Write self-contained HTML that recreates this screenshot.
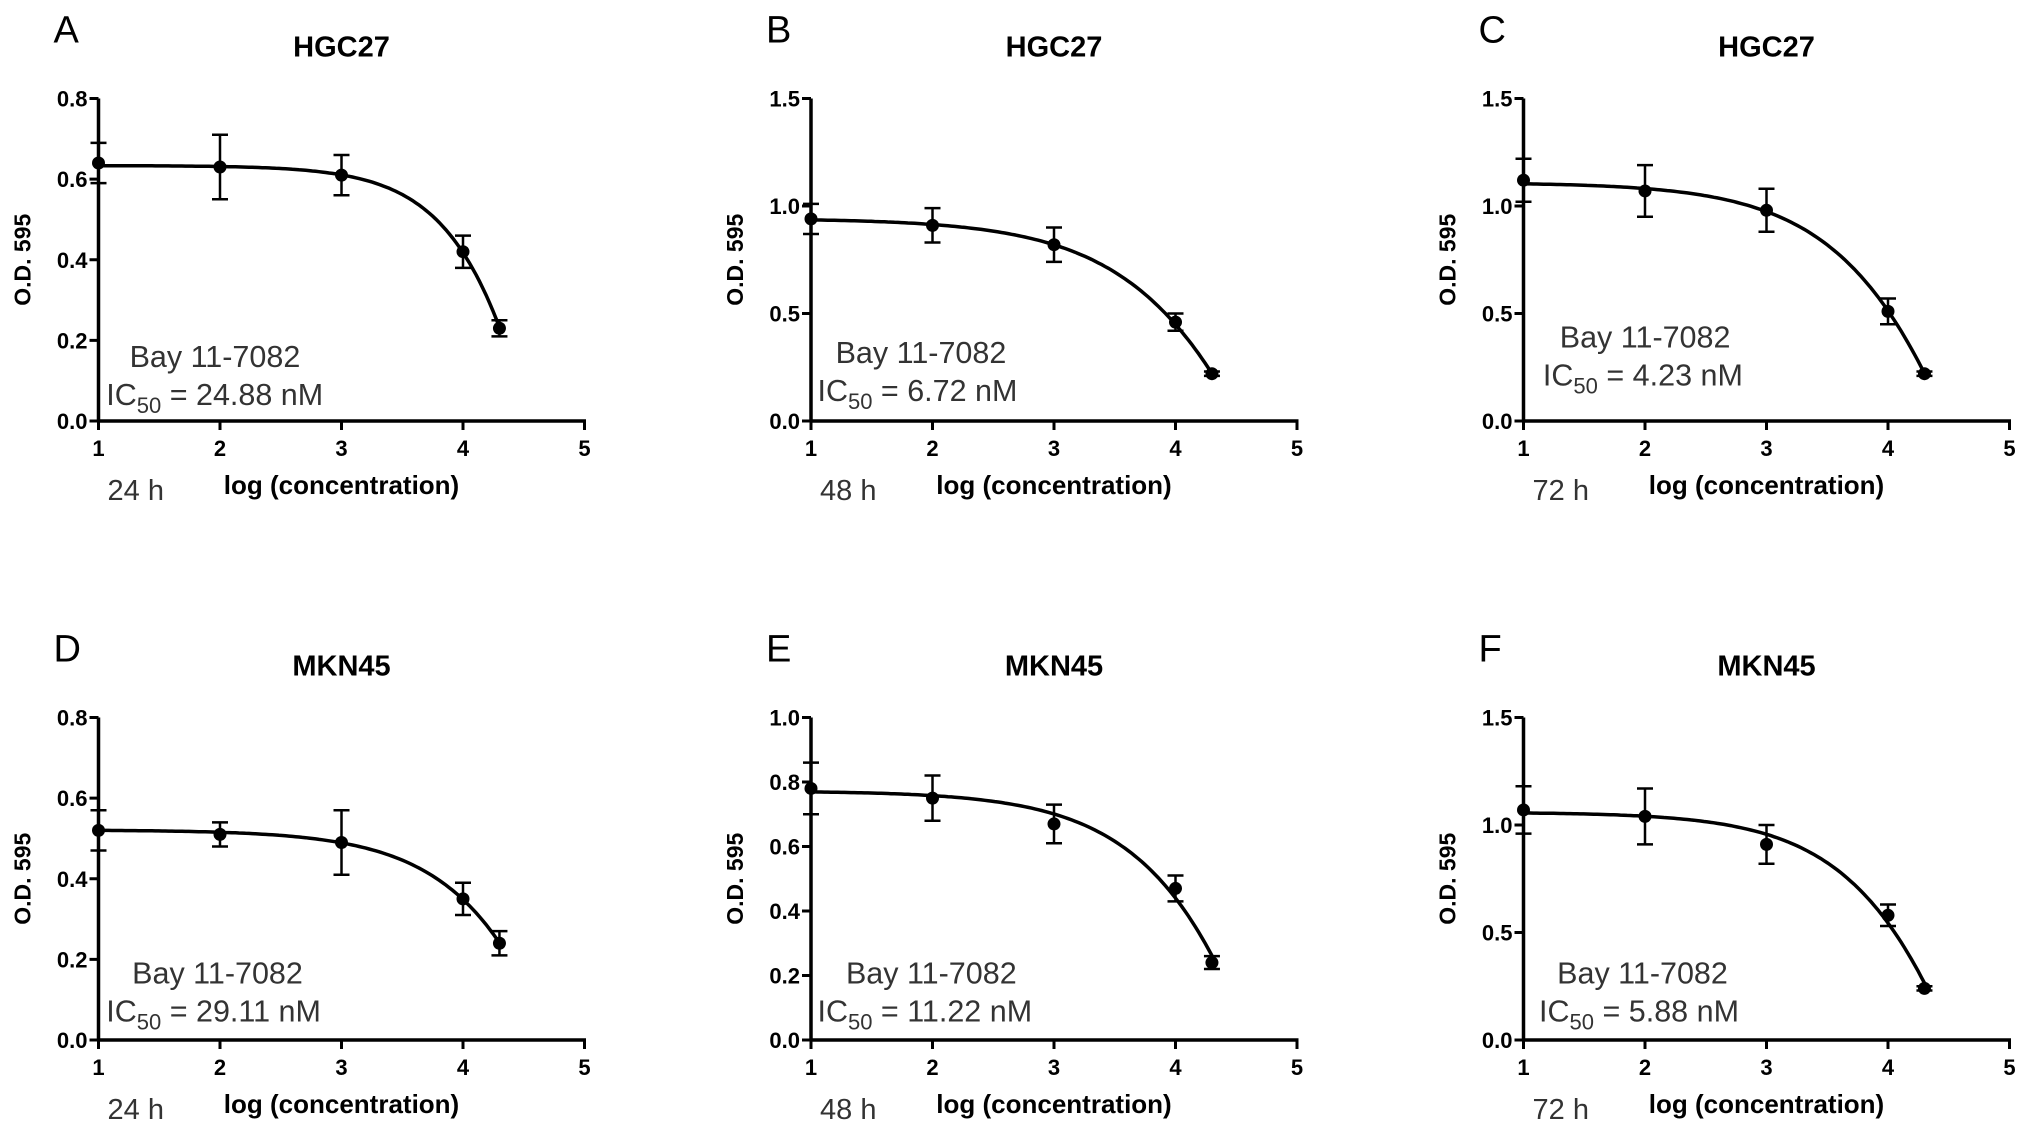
<!DOCTYPE html>
<html><head><meta charset="utf-8"><style>
html,body{margin:0;padding:0;background:#fff;}
svg{display:block;font-family:"Liberation Sans",Arial,sans-serif;}
</style></head><body>
<svg id="fig" width="2031" height="1137" viewBox="0 0 2031 1137" xmlns="http://www.w3.org/2000/svg"></svg>
<script>
const panelLetters = ["A","B","C","D","E","F"];
const panelTitles = ["HGC27","HGC27","HGC27","MKN45","MKN45","MKN45"];
const timeLabels = ["24 h","48 h","72 h","24 h","48 h","72 h"];
const ic50Labels = ["24.88 nM","6.72 nM","4.23 nM","29.11 nM","11.22 nM","5.88 nM"];
const yMaxes = [0.8,1.5,1.5,0.8,1.0,1.5];
const yTickLabels = [
  ["0.0","0.2","0.4","0.6","0.8"],
  ["0.0","0.5","1.0","1.5"],
  ["0.0","0.5","1.0","1.5"],
  ["0.0","0.2","0.4","0.6","0.8"],
  ["0.0","0.2","0.4","0.6","0.8","1.0"],
  ["0.0","0.5","1.0","1.5"]
];
const xTickLabels = ["1","2","3","4","5"];
const logConc = [1,2,3,4,4.3];
const meanA = [0.64,0.63,0.61,0.42,0.23];
const errA  = [0.05,0.08,0.05,0.04,0.02];
const meanB = [0.94,0.91,0.82,0.46,0.22];
const errB  = [0.07,0.08,0.08,0.04,0.01];
const meanC = [1.12,1.07,0.98,0.51,0.22];
const errC  = [0.10,0.12,0.10,0.06,0.01];
const meanD = [0.52,0.51,0.49,0.35,0.24];
const errD  = [0.05,0.03,0.08,0.04,0.03];
const meanE = [0.78,0.75,0.67,0.47,0.24];
const errE  = [0.08,0.07,0.06,0.04,0.02];
const meanF = [1.07,1.04,0.91,0.58,0.24];
const errF  = [0.11,0.13,0.09,0.05,0.01];
const means = [meanA,meanB,meanC,meanD,meanE,meanF];
const errs = [errA,errB,errC,errD,errE,errF];

const NS="http://www.w3.org/2000/svg";
const svg=document.getElementById('fig');
function mk(tag,attrs,parent,text){const e=document.createElementNS(NS,tag);for(const k in attrs)e.setAttribute(k,attrs[k]);if(text!==undefined)e.textContent=text;(parent||svg).appendChild(e);return e;}

function fit(xs,ys){
  let best=null,bErr=1e9;const mx=Math.max(...ys);
  for(let t=0;t<=12;t++){const top=mx*(0.99+t*0.012);
   for(let b=0;b<=30;b++){const bot=-3+b*0.1;
    for(let ci=0;ci<=60;ci++){const c=3.5+ci*0.05;
     for(let hi=0;hi<=40;hi++){const h=0.3+hi*0.05;
      let e=0;for(let i=0;i<xs.length;i++){const v=bot+(top-bot)/(1+Math.pow(10,(xs[i]-c)*h));e+=(v-ys[i])*(v-ys[i]);}
      if(e<bErr){bErr=e;best=[top,bot,c,h];}}}}}
  return best;
}

const annot = [[24,6,0],[19,5,-3],[28,15,-15],[26,6,-2],[27,5,-2],[26,12,-2]];
for(let p=0;p<6;p++){
  const col=p%3,row=Math.floor(p/3);
  const x1=98.5+col*712.5, x5=x1+486;
  const y0=421+row*619, yTop=98.5+row*619;
  const sx=v=>x1+(v-1)*(x5-x1)/4;
  const sy=v=>y0-v*(y0-yTop)/yMaxes[p];
  const g=mk('g',{});
  
  
  let t;
  t=mk('text',{x:x1-45,y:yTop-56,'font-size':38},g,panelLetters[p]);
  
  t=mk('text',{x:x1+243,y:yTop-42,'font-size':29,'font-weight':'bold','text-anchor':'middle'},g,panelTitles[p]);
  
  const cy=(y0+yTop)/2;
  t=mk('text',{x:0,y:0,'font-size':23,'font-weight':'bold','text-anchor':'middle',transform:`translate(${x1-68},${cy}) rotate(-90)`},g,'O.D. 595');
  
  let a=mk('line',{x1:x1,y1:yTop,x2:x1,y2:y0+1.5,stroke:'#000','stroke-width':3.5},g);
  
  a=mk('line',{x1:x1-1.5,y1:y0,x2:x5+1.5,y2:y0,stroke:'#000','stroke-width':3.5},g);
  
  const ny=yTickLabels[p].length;
  yTickLabels[p].forEach((lab,i)=>{
    const v=yMaxes[p]*i/(ny-1), yy=sy(v);
    mk('line',{x1:x1-9,y1:yy,x2:x1,y2:yy,stroke:'#000','stroke-width':3},g);
    const tt=mk('text',{x:x1-11,y:yy+8,'font-size':22,'font-weight':'bold','text-anchor':'end'},g,lab);
    
  });
  xTickLabels.forEach((lab,i)=>{
    const xx=sx(i+1);
    mk('line',{x1:xx,y1:y0,x2:xx,y2:y0+9,stroke:'#000','stroke-width':3},g);
    const tt=mk('text',{x:xx,y:y0+35,'font-size':22,'font-weight':'bold','text-anchor':'middle'},g,lab);
    
  });
  t=mk('text',{x:x1+243,y:y0+73,'font-size':26,'font-weight':'bold','text-anchor':'middle'},g,'log (concentration)');
  
  t=mk('text',{x:x1+9,y:y0+79,'font-size':29,fill:'#333'},g,timeLabels[p]);
  
  const an=annot[p];
  t=mk('text',{x:x1+an[0]*1.295,y:y0-54+an[2]*1.295,'font-size':30.5,fill:'#333'},g,'Bay 11-7082');
  
  t=mk('text',{x:x1+an[1]*1.295,y:y0-16+an[2]*1.295,'font-size':30.5,fill:'#333'},g);
  
  mk('tspan',{},t,'IC');mk('tspan',{dy:8,'font-size':22},t,'50');mk('tspan',{dy:-8},t,' = '+ic50Labels[p]);
  const m=means[p],er=errs[p];
  const f=fit(logConc,m);
  let d='';
  for(let i=0;i<=120;i++){const xv=logConc[0]+(logConc[logConc.length-1]-logConc[0])*i/120;
    const yv=f[1]+(f[0]-f[1])/(1+Math.pow(10,(xv-f[2])*f[3]));
    d+=(i?'L':'M')+sx(xv).toFixed(1)+','+sy(yv).toFixed(1);}
  const c=mk('path',{d:d,fill:'none',stroke:'#000','stroke-width':3.5},g);
  
  m.forEach((v,i)=>{
    const xx=sx(logConc[i]),yh=sy(v+er[i]),yl=sy(v-er[i]);
    const eb=mk('path',{d:`M${xx},${yh}L${xx},${yl}M${xx-8},${yh}L${xx+8},${yh}M${xx-8},${yl}L${xx+8},${yl}`,stroke:'#000','stroke-width':2.5,fill:'none'},g);
    
    const pt=mk('circle',{cx:xx,cy:sy(v),r:6.5,fill:'#000'},g);
    
  });
}
</script>
</body></html>
